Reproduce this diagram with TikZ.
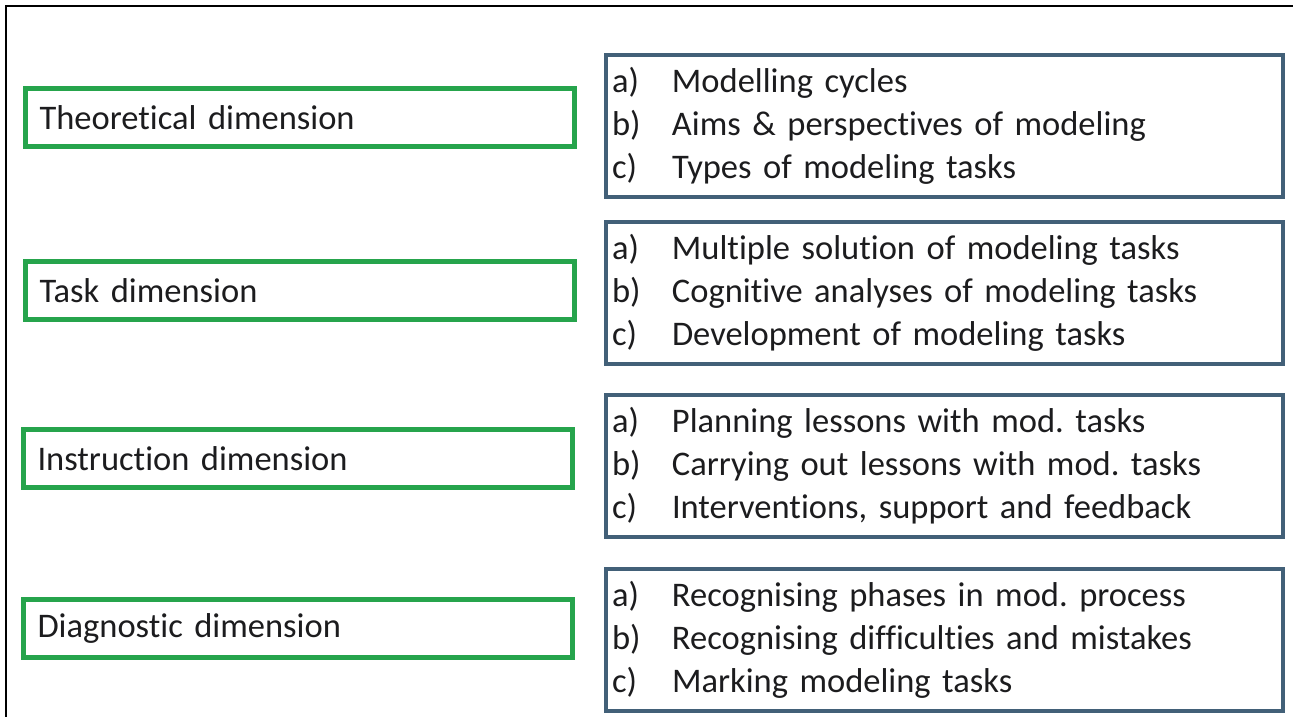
\documentclass[tikz,border=0pt]{standalone}
\usepackage{fontspec}
\setmainfont{Carlito}[Ligatures=NoCommon]
\frenchspacing
\definecolor{dimgreen}{RGB}{38,164,76}
\definecolor{itemblue}{RGB}{66,96,120}
\definecolor{txt}{RGB}{28,28,30}
\tikzset{
  dimbox/.style={draw=dimgreen, line width=5pt, rectangle, anchor=north west,
    minimum width=549pt, minimum height=58pt, inner xsep=14pt, text width=521pt,
    align=left, text=txt, font=\fontsize{34.5}{43}\selectfont},
  itembox/.style={draw=itemblue, line width=4pt, rectangle, anchor=north west,
    minimum width=677pt, minimum height=142pt, inner xsep=6pt, text width=665pt,
    align=left, text=txt, font=\fontsize{34.5}{43}\selectfont},
  frame/.style={draw=black, line width=2pt}
}
\newcommand{\itm}[2]{\makebox[60pt][l]{#1)}#2}
\begin{document}
\begin{tikzpicture}[x=1pt,y=-1pt]
\useasboundingbox (0,0) rectangle (1293,717);
\draw[frame] (6,717) -- (6,6) -- (1293,6);
\node[dimbox] (theo) at (23,86) {Theoretical dimension};
\node[dimbox] (task) at (23,259) {Task dimension};
\node[dimbox] (instr) at (21,427) {Instruction dimension};
\node[dimbox] (diag) at (21,597) {Diagnostic dimension};
\node[itembox] (theoitems) at (604,53) {\itm{a}{Modelling cycles}\\\itm{b}{Aims \& perspectives of modeling}\\\itm{c}{Types of modeling tasks}};
\node[itembox] (taskitems) at (604,220) {\itm{a}{Multiple solution of modeling tasks}\\\itm{b}{Cognitive analyses of modeling tasks}\\\itm{c}{Development of modeling tasks}};
\node[itembox] (instritems) at (604,393) {\itm{a}{Planning lessons with mod. tasks}\\\itm{b}{Carrying out lessons with mod. tasks}\\\itm{c}{Interventions, support and feedback}};
\node[itembox] (diagitems) at (604,567) {\itm{a}{Recognising phases in mod. process}\\\itm{b}{Recognising difficulties and mistakes}\\\itm{c}{Marking modeling tasks}};
\end{tikzpicture}
\end{document}
